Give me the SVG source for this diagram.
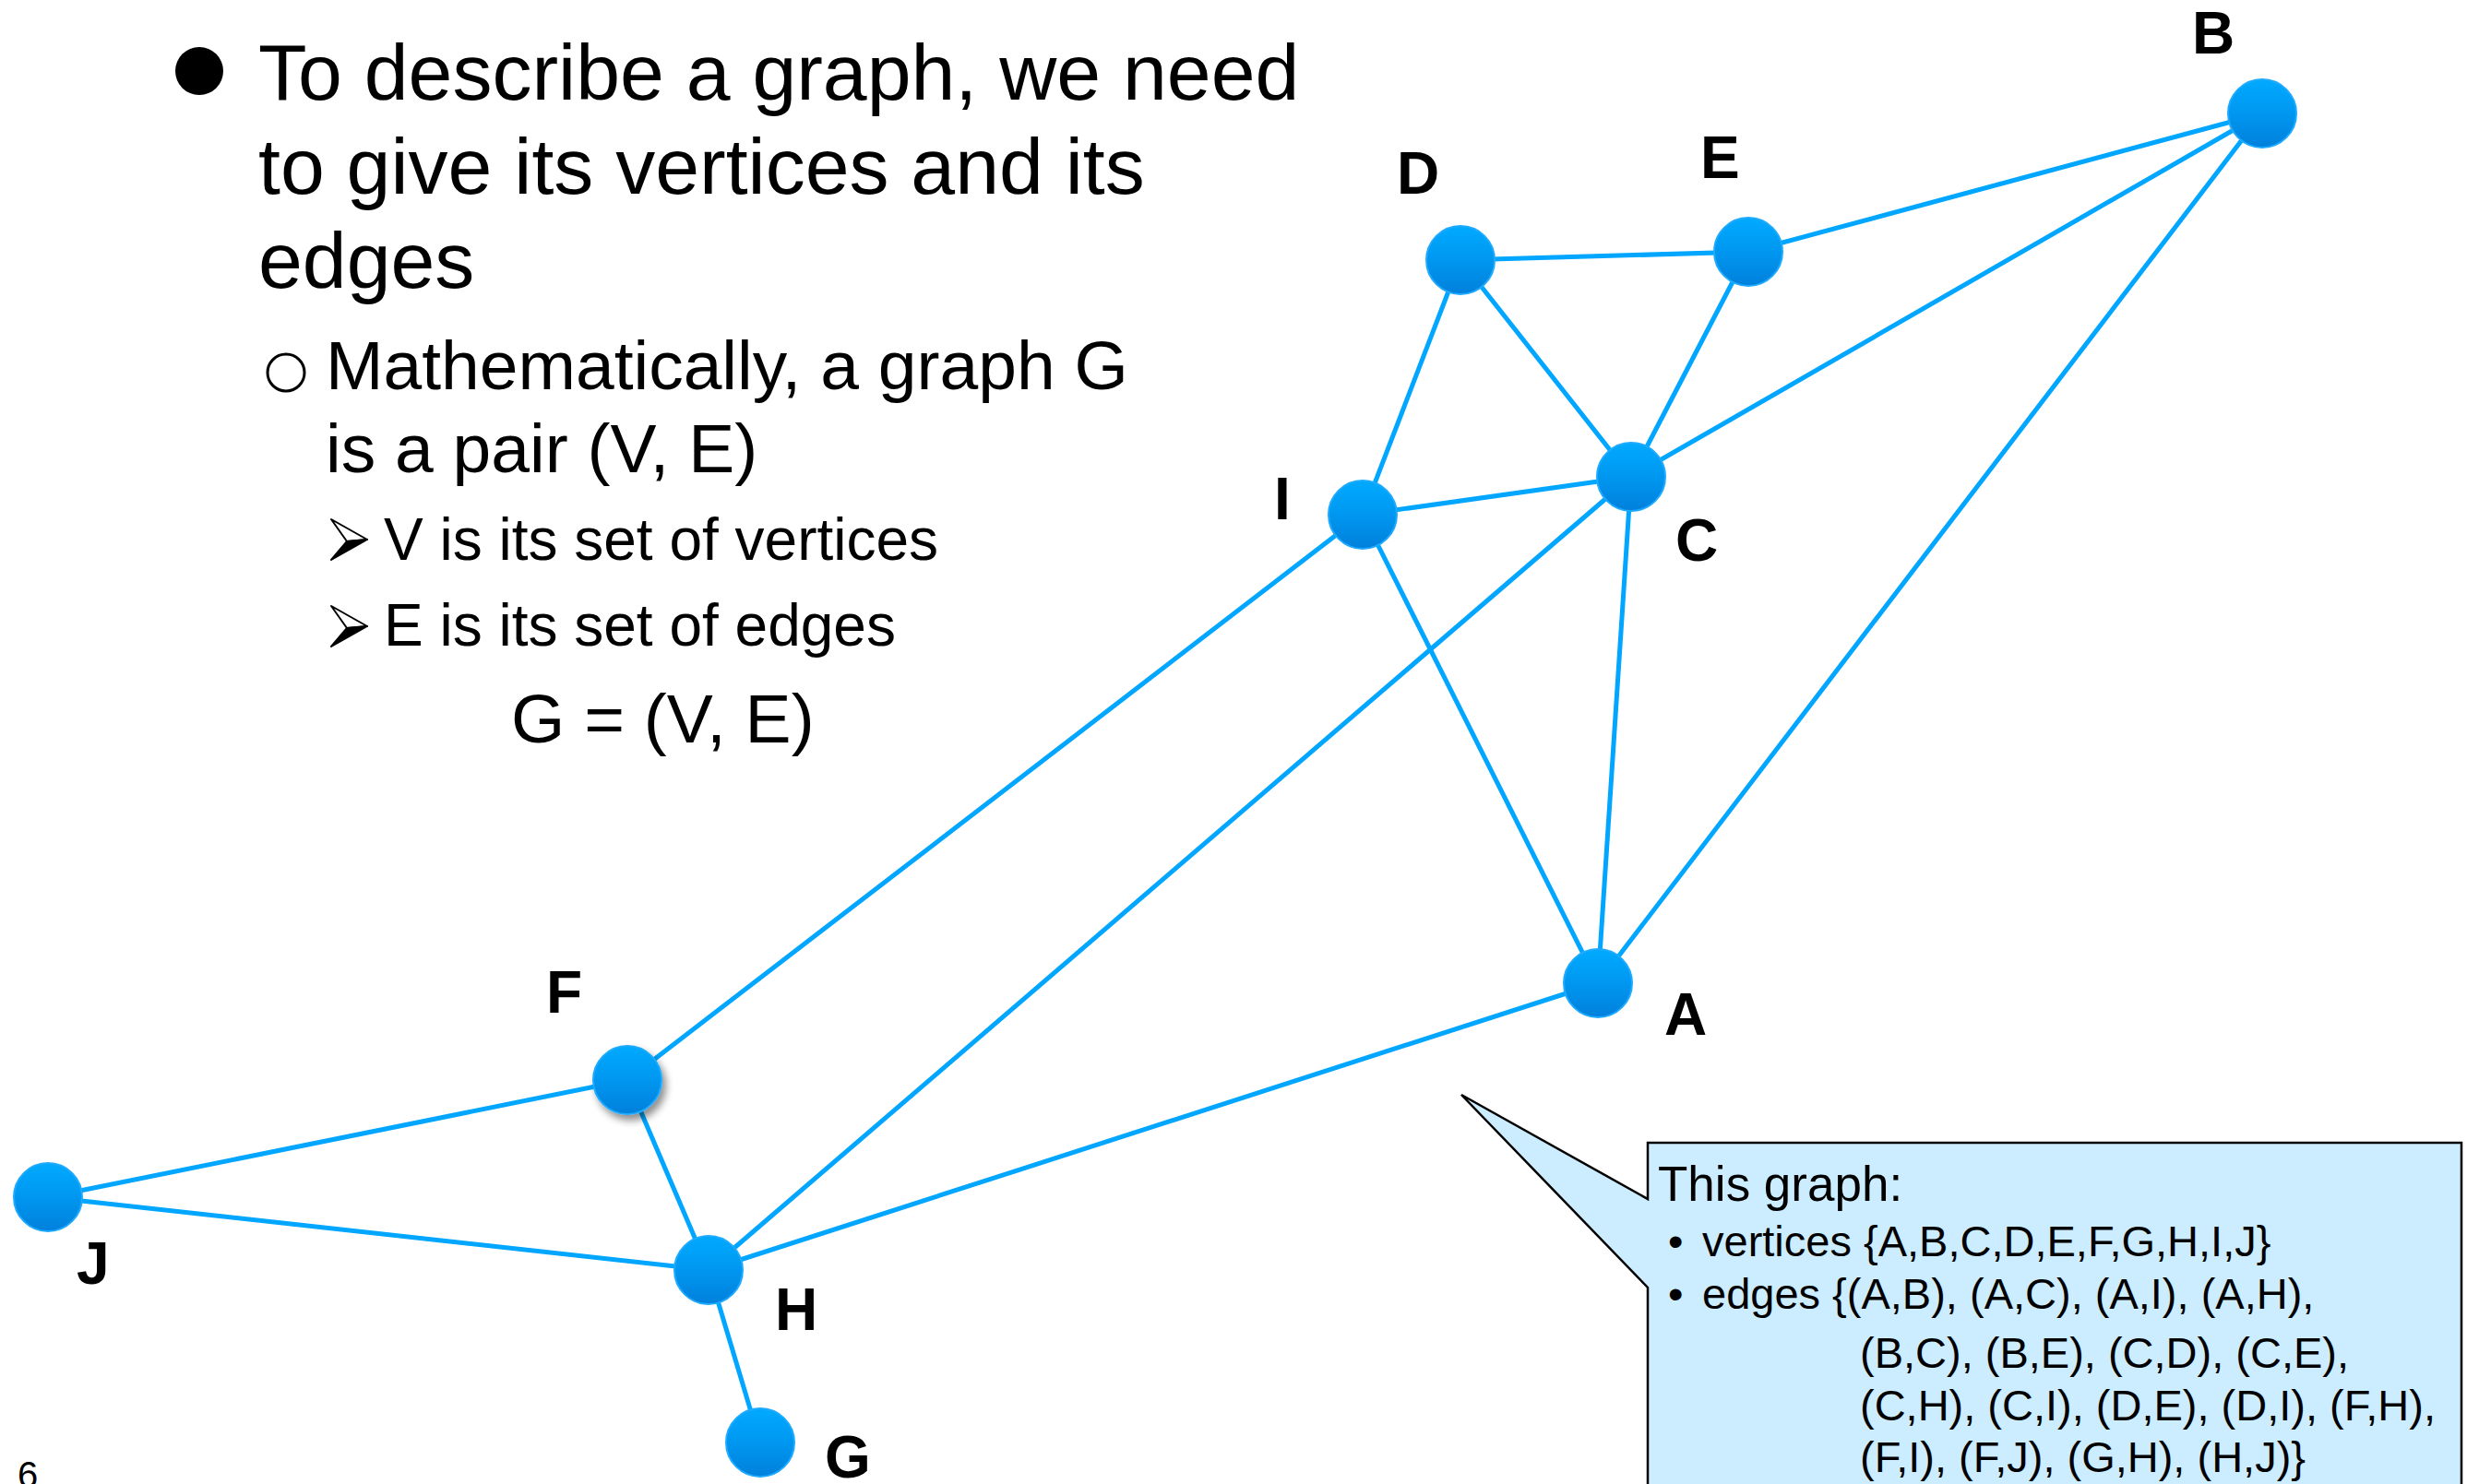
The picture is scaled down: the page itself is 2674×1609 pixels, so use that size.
<svg xmlns="http://www.w3.org/2000/svg" width="2674" height="1609" viewBox="0 0 2674 1609">
<defs>
<linearGradient id="ng" x1="0" y1="0" x2="0" y2="1">
<stop offset="0" stop-color="#00AAFF"/>
<stop offset="0.45" stop-color="#0099F2"/>
<stop offset="1" stop-color="#0080DC"/>
</linearGradient>
<filter id="sh" x="-50%" y="-50%" width="200%" height="200%">
<feGaussianBlur in="SourceAlpha" stdDeviation="4"/>
<feOffset dx="4" dy="6" result="b"/>
<feComponentTransfer><feFuncA type="linear" slope="0.45"/></feComponentTransfer>
<feMerge><feMergeNode/><feMergeNode in="SourceGraphic"/></feMerge>
</filter>
<style>
.t{font-family:"Liberation Sans",Arial,sans-serif;fill:#000}
.lbl{font-family:"Liberation Sans",Arial,sans-serif;font-weight:bold;font-size:64px;fill:#000}
.e{stroke:#00A6FF;stroke-width:5;stroke-linecap:round}
.n{fill:url(#ng);stroke:#1EAAFF;stroke-width:2}
</style>
</defs>
<rect width="2674" height="1609" fill="#fff"/>

<g id="text">
<circle cx="216" cy="77" r="26" fill="#000"/>
<text class="t" x="280" y="108" font-size="86">To describe a graph, we need</text>
<text class="t" x="280" y="210" font-size="86">to give its vertices and its</text>
<text class="t" x="280" y="312" font-size="86">edges</text>
<circle cx="310" cy="404" r="20" fill="none" stroke="#000" stroke-width="3"/>
<text class="t" x="353" y="422" font-size="75">Mathematically, a graph G</text>
<text class="t" x="353" y="512" font-size="75">is a pair (V, E)</text>
<polygon points="359,563 398,585 376,587" fill="#fff" stroke="#000" stroke-width="2" stroke-linejoin="round"/>
<polygon points="376,587 398,585 359,607" fill="#000" stroke="#000" stroke-width="2" stroke-linejoin="round"/>
<text class="t" x="416" y="607" font-size="64">V is its set of vertices</text>
<polygon points="359,657 398,679 376,681" fill="#fff" stroke="#000" stroke-width="2" stroke-linejoin="round"/>
<polygon points="376,681 398,679 359,701" fill="#000" stroke="#000" stroke-width="2" stroke-linejoin="round"/>
<text class="t" x="416" y="700" font-size="64">E is its set of edges</text>
<text class="t" x="554" y="805" font-size="75">G = (V, E)</text>
<text class="t" x="19" y="1613" font-size="40">6</text>
</g>

<g id="connectors">
<line class="e" x1="1732" y1="1066" x2="2452" y2="123"/>
<line class="e" x1="1732" y1="1066" x2="1768" y2="517"/>
<line class="e" x1="1732" y1="1066" x2="1477" y2="558"/>
<line class="e" x1="1732" y1="1066" x2="768" y2="1377"/>
<line class="e" x1="2452" y1="123" x2="1768" y2="517"/>
<line class="e" x1="2452" y1="123" x2="1895" y2="273"/>
<line class="e" x1="1768" y1="517" x2="1583" y2="282"/>
<line class="e" x1="1768" y1="517" x2="1895" y2="273"/>
<line class="e" x1="1768" y1="517" x2="768" y2="1377"/>
<line class="e" x1="1768" y1="517" x2="1477" y2="558"/>
<line class="e" x1="1583" y1="282" x2="1895" y2="273"/>
<line class="e" x1="1583" y1="282" x2="1477" y2="558"/>
<line class="e" x1="680" y1="1171" x2="768" y2="1377"/>
<line class="e" x1="680" y1="1171" x2="1477" y2="558"/>
<line class="e" x1="680" y1="1171" x2="52" y2="1298"/>
<line class="e" x1="824" y1="1564" x2="768" y2="1377"/>
<line class="e" x1="768" y1="1377" x2="52" y2="1298"/>
</g>

<g id="node-A"><circle class="n" cx="1732" cy="1066" r="37"/><text class="lbl" x="1804" y="1122">A</text></g>
<g id="node-B"><circle class="n" cx="2452" cy="123" r="37"/><text class="lbl" x="2376" y="58">B</text></g>
<g id="node-C"><circle class="n" cx="1768" cy="517" r="37"/><text class="lbl" x="1816" y="608">C</text></g>
<g id="node-D"><circle class="n" cx="1583" cy="282" r="37"/><text class="lbl" x="1514" y="210">D</text></g>
<g id="node-E"><circle class="n" cx="1895" cy="273" r="37"/><text class="lbl" x="1843" y="193">E</text></g>
<g id="node-F"><circle class="n" cx="680" cy="1171" r="37" filter="url(#sh)"/><text class="lbl" x="592" y="1098">F</text></g>
<g id="node-G"><circle class="n" cx="824" cy="1564" r="37"/><text class="lbl" x="894" y="1602">G</text></g>
<g id="node-H"><circle class="n" cx="768" cy="1377" r="37"/><text class="lbl" x="840" y="1442">H</text></g>
<g id="node-I"><circle class="n" cx="1477" cy="558" r="37"/><text class="lbl" x="1381" y="563">I</text></g>
<g id="node-J"><circle class="n" cx="52" cy="1298" r="37"/><text class="lbl" x="83" y="1392">J</text></g>

<g id="callout">
<path d="M1786,1239 H2668 V1620 H1786 V1396 L1584,1187 L1786,1300 Z" fill="#CCECFF" stroke="#000" stroke-width="2.5" stroke-linejoin="miter"/>
<text class="t" x="1797" y="1302" font-size="53">This graph:</text>
<text class="t" x="1808" y="1362" font-size="47">•</text>
<text class="t" x="1845" y="1362" font-size="47">vertices {A,B,C,D,E,F,G,H,I,J}</text>
<text class="t" x="1808" y="1419" font-size="47">•</text>
<text class="t" x="1845" y="1419" font-size="47">edges {(A,B), (A,C), (A,I), (A,H),</text>
<text class="t" x="2016" y="1483" font-size="47">(B,C), (B,E), (C,D), (C,E),</text>
<text class="t" x="2016" y="1540" font-size="47">(C,H), (C,I), (D,E), (D,I), (F,H),</text>
<text class="t" x="2016" y="1596" font-size="47">(F,I), (F,J), (G,H), (H,J)}</text>
</g>
</svg>
